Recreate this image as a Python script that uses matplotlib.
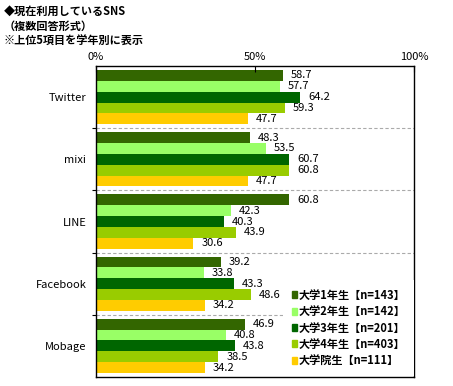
import numpy as np
import matplotlib.pyplot as plt
from matplotlib.patches import Patch

plt.rcParams['font.family'] = ['Noto Sans CJK JP', 'DejaVu Sans']

categories = ["Twitter", "mixi", "LINE", "Facebook", "Mobage"]
series = ["大学1年生【n=143】", "大学2年生【n=142】", "大学3年生【n=201】",
          "大学4年生【n=403】", "大学院生【n=111】"]
values = [
    [58.7, 48.3, 60.8, 39.2, 46.9],
    [57.7, 53.5, 42.3, 33.8, 40.8],
    [64.2, 60.7, 40.3, 43.3, 43.8],
    [59.3, 60.8, 43.9, 48.6, 38.5],
    [47.7, 47.7, 30.6, 34.2, 34.2],
]
colors = ["#336600", "#99FF66", "#006600", "#99CC00", "#FFCC00"]
title_lines = ["◆現在利用しているSNS", "（複数回答形式）", "※上位5項目を学年別に表示"]

fig = plt.figure(figsize=(4.53, 3.86), dpi=100)
ax = fig.add_axes([0.212, 0.0233, 0.702, 0.8057])

bh = 0.174
idx = np.arange(len(categories))
for k, (vals, c) in enumerate(zip(values, colors)):
    y = idx + (k - 2) * bh
    ax.barh(y, vals, height=bh, color=c, edgecolor='none', label=series[k])
    for yy, v in zip(y, vals):
        ax.text(v + 2.5, yy, f"{v:.1f}", va='center', ha='left', fontsize=8)

ax.set_xlim(0, 100)
ax.set_ylim(len(categories) - 0.5, -0.5)
ax.xaxis.tick_top()
ax.set_xticks([0, 50, 100])
ax.set_xticklabels(["0%", "50%", "100%"], fontsize=8)
ax.tick_params(axis='x', direction='in', length=4, pad=3)

ax.set_yticks(idx[:-1] + 0.5)
ax.set_yticklabels([])
ax.tick_params(axis='y', which='major', direction='out', length=3)
ax.set_yticks(idx, minor=True)
ax.set_yticklabels(categories, minor=True, fontsize=8)
ax.tick_params(axis='y', which='minor', length=0, pad=7)

for b in idx[:-1] + 0.5:
    ax.axhline(b, color='#aaaaaa', lw=0.8, ls=(0, (3, 2)))

for s in ax.spines.values():
    s.set_linewidth(1.0)

handles = [Patch(color=c) for c in colors]
leg = ax.legend(handles, series, loc='lower right', bbox_to_anchor=(1.0, 0.003),
                prop={'weight': 'bold', 'size': 8},
                handlelength=0.5, handleheight=0.6, handletextpad=0.1,
                labelspacing=0.3, borderpad=0.8, borderaxespad=0,
                fancybox=False, framealpha=1)
leg.get_frame().set_edgecolor('none')

# title block, three lines
for i, line in enumerate(title_lines):
    fig.text(0.008, 1 - (11 + 15 * i) / 386, line, fontsize=8, fontweight='bold',
             va='center', ha='left')

fig.savefig("out.png", dpi=100)
